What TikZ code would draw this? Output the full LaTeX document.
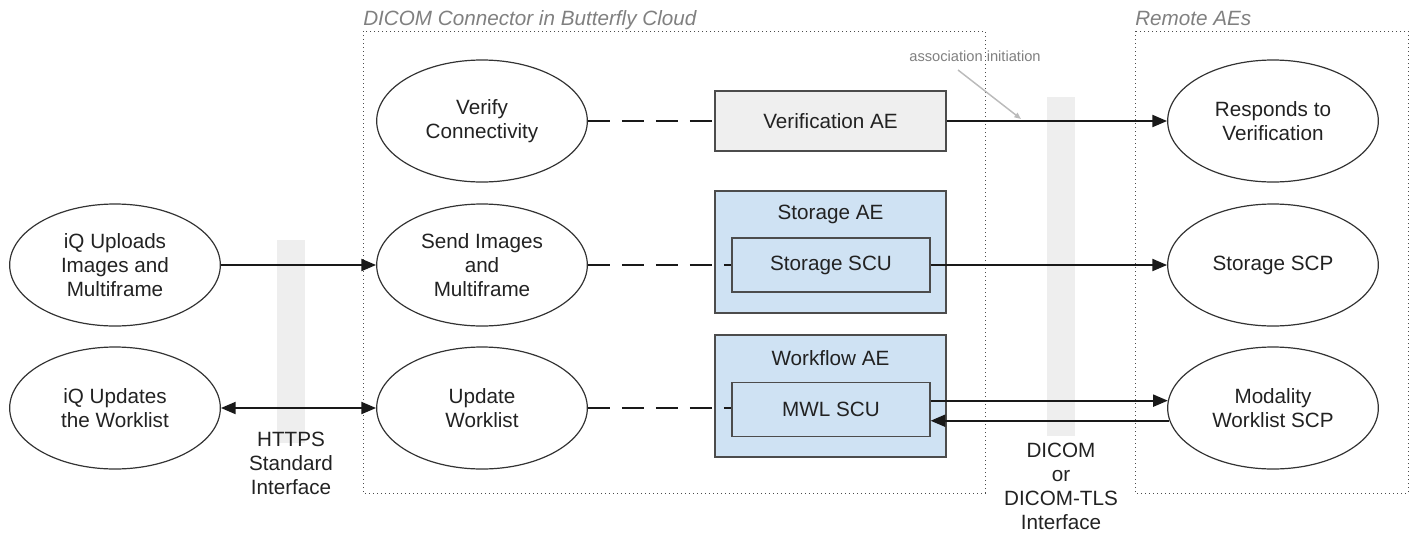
\documentclass[tikz,border=0pt]{standalone}
\usepackage{fontspec}
\setmainfont{Liberation Sans}
\usetikzlibrary{shapes.geometric,arrows.meta,calc}
\definecolor{bluefill}{HTML}{CFE2F3}
\definecolor{grayfill}{HTML}{EFEFEF}
\definecolor{barcol}{HTML}{EEEEEE}
\definecolor{titlegray}{HTML}{808080}
\definecolor{txt}{HTML}{222222}
\definecolor{pointer}{HTML}{BBBBBB}
\begin{document}
\begin{tikzpicture}[x=0.75pt,y=-0.75pt,
  font=\fontsize{15.5}{17.75}\selectfont, text=txt,
  ell/.style={ellipse,draw=black!80,line width=0.9pt,minimum width=158pt,minimum height=91.5pt,align=center,inner sep=0pt},
  aebox/.style={draw=black!70,line width=0.9pt,minimum width=173.25pt,inner sep=0pt},
  scubox/.style={draw=black!70,line width=0.9pt,fill=bluefill,minimum width=148.5pt,minimum height=40.5pt,inner sep=0pt},
  conn/.style={line width=1.4pt,draw=black!90},
  arr/.style={conn,-{Triangle[length=11pt,width=9pt]}},
  biarr/.style={conn,{Triangle[length=11pt,width=9pt]}-{Triangle[length=11pt,width=9pt]}},
  dashline/.style={conn,dash pattern=on 16.5pt off 9pt},
  region/.style={draw=black!70,line width=0.6pt,dash pattern=on 0.75pt off 2.25pt},
  title/.style={font=\fontsize{15.5}{18}\selectfont\itshape,text=titlegray,anchor=base west,inner sep=0pt},
  iflabel/.style={align=center,font=\fontsize{15.5}{18}\selectfont,anchor=north,inner sep=0pt},
  barfill/.style={fill=barcol,draw=none}
]
\useasboundingbox (0,0) rectangle (1413,533);

% regions
\draw[region] (363,31) rectangle (985,493);
\draw[region] (1135,31) rectangle (1408,493);
\node[title] (t1) at (363,25) {DICOM Connector in Butterfly Cloud};
\node[title] (t2) at (1135,25) {Remote AEs};

% interface bars
\fill[barfill] (277,240) rectangle (305,443);
\fill[barfill] (1047,97) rectangle (1075,436);

% ellipses
\node[ell] (verify) at (482,121) {Verify\\Connectivity};
\node[ell] (send) at (482,265) {Send Images\\and\\Multiframe};
\node[ell] (update) at (482,408) {Update\\Worklist};
\node[ell] (iqup) at (115,265) {iQ Uploads\\Images and\\Multiframe};
\node[ell] (iqwl) at (115,408) {iQ Updates\\the Worklist};
\node[ell] (resp) at (1273,121) {Responds to\\Verification};
\node[ell] (scp) at (1273,265) {Storage SCP};
\node[ell] (mod) at (1273,408) {Modality\\Worklist SCP};

% AE boxes
\node[aebox,fill=grayfill,minimum height=45pt] (verae) at (830.5,121) {Verification AE};
\node[aebox,fill=bluefill,minimum height=91.5pt] (storae) at (830.5,252) {};
\node[inner sep=0pt] (storlbl) at (830.5,214) {Storage AE};
\node[scubox] (scu) at (831,265) {Storage SCU};
\node[aebox,fill=bluefill,minimum height=91.5pt] (wfae) at (830.5,396) {};
\node[inner sep=0pt] (wflbl) at (830.5,358) {Workflow AE};
\node[scubox] (mwl) at (831,409.5) {MWL SCU};

% connectors
\draw[dashline] (verify.east) -- (verae.west);
\draw[dashline] (send.east) -- (scu.west);
\draw[dashline] (update.east) -- (update.east -| mwl.west);
\draw[arr] (verae.east) -- (resp.west);
\draw[arr] (scu.east) -- (scp.west);
\draw[arr] (mod.176.7 -| mwl.east) -- (mod.176.7);
\draw[arr] (mod.187) -- (mod.187 -| mwl.east);
\draw[arr] (iqup.east) -- (send.west);
\draw[biarr] (iqwl.east) -- (update.west);

% interface labels
\node[iflabel] (https) at (291,432) {HTTPS\\Standard\\Interface};
\node[iflabel] (dicom) at (1061,443) {DICOM\\or\\DICOM-TLS\\Interface};

% association initiation
\node[font=\fontsize{11}{13}\selectfont,text=titlegray,inner sep=0pt] (assoc) at (975,56) {association initiation};
\coordinate (assocstart) at (958,70);
\coordinate (assoctip) at (1021,119);
\draw[pointer,line width=1.1pt,-{Triangle[length=5pt,width=4pt]}] (assocstart) -- (assoctip);
\end{tikzpicture}
\end{document}
